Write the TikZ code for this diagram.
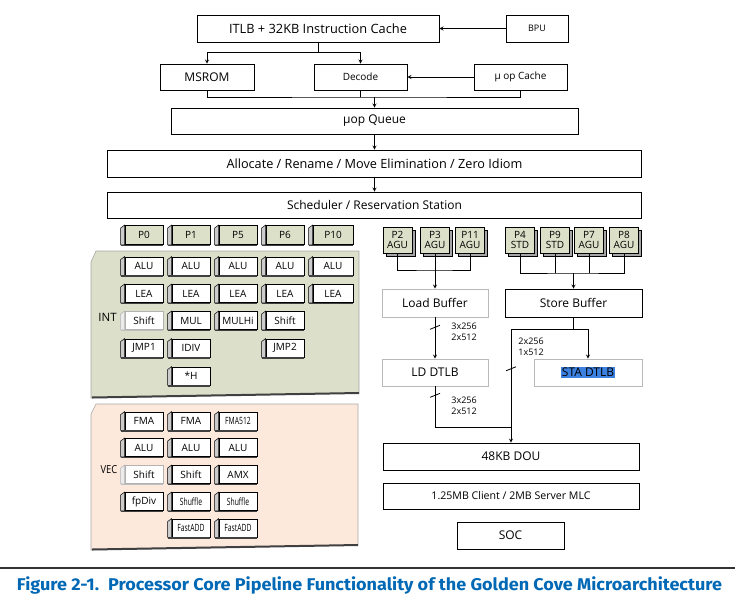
\documentclass[tikz,border=0pt]{standalone}
\usepackage{fontspec}
\setmainfont{Open Sans}
\newfontfamily\capfont{Fira Sans}
\usetikzlibrary{positioning,shadows,calc}
\definecolor{portgreen}{HTML}{DDE0C9}
\definecolor{intgreen}{HTML}{DCDFC9}
\definecolor{vecpeach}{HTML}{FDE9DC}
\definecolor{capblue}{HTML}{0068B5}
\definecolor{selblue}{HTML}{3C80E0}

\begin{document}
\begin{tikzpicture}[x=1pt,y=-1pt,>=stealth,line width=0.8pt,
	every node/.style={inner sep=0pt},
	blk/.style={draw, fill=white, font=\fontsize{12}{14}\selectfont},
	sml/.style={blk, font=\fontsize{10}{12}\selectfont},
	gbox/.style={blk, draw=gray!55},
	port/.style={draw, fill=portgreen, minimum width=38, minimum height=19, font=\fontsize{10}{11}\selectfont},
	fu/.style={draw, fill=white, minimum width=38, minimum height=18, font=\fontsize{10}{11}\selectfont},
	fulite/.style={fu, draw=gray!60},
	agu/.style={draw, fill=portgreen, align=center, minimum width=29, minimum height=26, font=\fontsize{10}{10.5}\selectfont, copy shadow={shadow xshift=3pt, shadow yshift=-3pt, fill=gray!70}},
	bus/.style={font=\fontsize{9}{11}\selectfont, align=left, anchor=west},
	bevel/.style={fill=gray!40, draw=black, line width=0.5pt},
	panel/.style={draw=gray!70, line width=0.6pt},
	]
	\useasboundingbox (0,0) rectangle (735,605);

	% front end
	\node[blk, minimum width=242, minimum height=27, font=\fontsize{12.8}{14}\selectfont] (itlb) at (318,28.5) {ITLB + 32KB Instruction Cache};
	\node[sml, minimum width=62, minimum height=27, font=\fontsize{9}{11}\selectfont] (bpu) at (537,28.5) {BPU};
	\node[blk, minimum width=94, minimum height=26] (msrom) at (207,77) {MSROM};
	\node[sml, minimum width=93, minimum height=26] (decode) at (360.5,77) {Decode};
	\node[sml, minimum width=93, minimum height=26] (ucache) at (520.5,77) {µ op Cache};
	\node[blk, minimum width=407, minimum height=26] (uqueue) at (374.5,121) {µop Queue};
	\node[blk, minimum width=534, minimum height=27, font=\fontsize{12.7}{14}\selectfont] (alloc) at (374.5,163.5) {Allocate / Rename / Move Elimination / Zero Idiom};
	\node[blk, minimum width=534, minimum height=26] (sched) at (374.5,205) {Scheduler / Reservation Station};

	\coordinate (fork) at (318,52);
	\coordinate (join) at (374.5,97);
	\draw[->] (bpu) -- (itlb);
	\draw (itlb.south) -- (fork);
	\draw[->] (fork) -| (msrom.north);
	\draw[->] (fork) -| (decode.north);
	\draw[->] (ucache) -- (decode);
	\draw (msrom.south) |- (join) -| (ucache.south);
	\draw (decode.south) -- (decode.south |- join);
	\draw[->] (join) -- (uqueue.north);
	\draw[->] (uqueue) -- (alloc);
	\draw[->] (alloc) -- (sched);

	% INT and VEC panels
	\draw[panel, fill=intgreen] (96,251) -- (359,251) -- (359,393) -- (91,398) -- (91,262) -- cycle;
	\draw[line width=2pt, black!75] (92,397.5) -- (359,393);
	\draw[panel, fill=vecpeach] (96,404) -- (358,404) -- (358,545) -- (91,550) -- (91,414) -- cycle;
	\draw[line width=2pt, black!75] (92,549.5) -- (358,545);
	\node[font=\fontsize{11.5}{12}\selectfont] (intlbl) at (107.5,317) {INT};
	\node[font=\fontsize{11}{12}\selectfont] (veclbl) at (109,470) {\scalebox{0.85}[1]{VEC}};

	% ports
	\node[port] (p0) at (144,235) {P0};
	\node[port] (p1) at (191,235) {P1};
	\node[port] (p5) at (238,235) {P5};
	\node[port] (p6) at (285,235) {P6};
	\node[port, minimum width=40] (p10) at (333,235) {P10};

	% integer units
	\node[fu] (alu1) at (144,266) {ALU};
	\node[fu] (alu2) at (191,266) {ALU};
	\node[fu] (alu3) at (238,266) {ALU};
	\node[fu] (alu4) at (285,266) {ALU};
	\node[fu, minimum width=40] (alu5) at (333,266) {ALU};
	\node[fu] (lea1) at (144,293.5) {LEA};
	\node[fu] (lea2) at (191,293.5) {LEA};
	\node[fu] (lea3) at (238,293.5) {LEA};
	\node[fu] (lea4) at (285,293.5) {LEA};
	\node[fu, minimum width=40] (lea5) at (333,293.5) {LEA};
	\node[fulite] (shift1) at (144,320.5) {Shift};
	\node[fu] (mul) at (191,320.5) {MUL};
	\node[fu] (mulhi) at (238,320.5) {MULHi};
	\node[fu] (shift2) at (285,320.5) {Shift};
	\node[fu] (jmp1) at (144,348) {JMP1};
	\node[fu] (idiv) at (191,348) {IDIV};
	\node[fu] (jmp2) at (285,348) {JMP2};
	\node[fu] (starh) at (191,376) {*H};

	% vector units
	\node[fu] (fma1) at (144,421) {FMA};
	\node[fu] (fma2) at (191,421) {FMA};
	\node[fu] (fma512) at (238,421) {\scalebox{0.68}[1]{FMA512}};
	\node[fu] (valu1) at (144,447.5) {ALU};
	\node[fu] (valu2) at (191,447.5) {ALU};
	\node[fu] (valu3) at (238,447.5) {ALU};
	\node[fulite] (vshift1) at (144,474.5) {Shift};
	\node[fu] (vshift2) at (191,474.5) {Shift};
	\node[fu] (amx) at (238,474.5) {AMX};
	\node[fu] (fpdiv) at (144,501.5) {fpDiv};
	\node[fu] (shuf1) at (191,501.5) {\scalebox{0.68}[1]{Shuffle}};
	\node[fu] (shuf2) at (238,501.5) {\scalebox{0.68}[1]{Shuffle}};
	\node[fu] (fadd1) at (191,528) {\scalebox{0.68}[1]{FastADD}};
	\node[fu] (fadd2) at (238,528) {\scalebox{0.68}[1]{FastADD}};

	\foreach \n in {p0,p1,p5,p6,p10,alu1,alu2,alu3,alu4,alu5,lea1,lea2,lea3,lea4,lea5,mul,mulhi,shift2,jmp1,idiv,jmp2,starh,fma1,fma2,fma512,valu1,valu2,valu3,vshift2,amx,fpdiv,shuf1,shuf2,fadd1,fadd2} {
		\draw[bevel] (\n.north west) -- ++(-4,3) -- ([xshift=-4pt]\n.south west) -- (\n.south west) -- cycle;
		\draw[line width=1.3pt, black!75] ([xshift=-4pt, yshift=-0.5pt]\n.south west) -- ([yshift=-0.5pt]\n.south east);
	}
	\foreach \n in {shift1,vshift1} {
		\draw[bevel, fill=gray!15, draw=gray!60] (\n.north west) -- ++(-4,3) -- ([xshift=-4pt]\n.south west) -- (\n.south west) -- cycle;
		\draw[line width=1.3pt, gray!50] ([xshift=-4pt, yshift=-0.5pt]\n.south west) -- ([yshift=-0.5pt]\n.south east);
	}

	% memory ports
	\node[agu] (p2) at (397.5,240) {P2\\AGU};
	\node[agu] (p3) at (435,240) {P3\\AGU};
	\node[agu] (p11) at (470,240) {P11\\AGU};
	\node[agu] (p4) at (520,240) {P4\\STD};
	\node[agu] (p9) at (555,240) {P9\\STD};
	\node[agu] (p7) at (589,240) {P7\\AGU};
	\node[agu] (p8) at (624,240) {P8\\AGU};

	% memory subsystem
	\node[gbox, minimum width=106, minimum height=28] (lbuf) at (435,303) {Load Buffer};
	\node[blk, minimum width=137, minimum height=28] (sbuf) at (573.5,303) {Store Buffer};
	\node[gbox, minimum width=106, minimum height=27] (ldtlb) at (435,372.5) {LD DTLB};
	\node[gbox, minimum width=108, minimum height=27] (stadtlb) at (588,372.5) {\setlength{\fboxsep}{1pt}\colorbox{selblue}{STA DTLB}};
	\node[blk, minimum width=256, minimum height=27] (dou) at (511,456.5) {48KB DOU};
	\node[blk, minimum width=256, minimum height=26, font=\fontsize{10.6}{12}\selectfont] (mlc) at (511,496) {1.25MB Client / 2MB Server MLC};
	\node[blk, minimum width=107, minimum height=27] (soc) at (510.5,535.5) {SOC};

	\coordinate (lbfork) at (435,270);
	\coordinate (sbfork) at (573.5,273);
	\draw (p2.south) |- (lbfork) -| (p11.south);
	\draw[->] (p3.south) -- (lbuf.north);
	\draw (p4.south) |- (sbfork) -| (p8.south);
	\draw (p9.south) -- (p9.south |- sbfork);
	\draw (p7.south) -- (p7.south |- sbfork);
	\draw[->] (sbfork) -- (sbuf.north);

	\coordinate (stfork) at (573.5,329);
	\coordinate (dsplit) at (511,329);
	\coordinate (ldjoin) at (511,427);
	\draw[->] (lbuf) -- coordinate[pos=0.24] (t1) (ldtlb);
	\draw (sbuf.south) -- (stfork);
	\draw[->] (dsplit) -| (stadtlb.north);
	\draw[->] (dsplit) -- coordinate[pos=0.35] (t2) (dou.north);
	\draw (ldtlb.south) -- coordinate[pos=0.22] (t3) (ldtlb.south |- ldjoin) -- (ldjoin);
	\draw (t1) +(-5,2) -- +(5,-2);
	\draw (t2) +(-5,2) -- +(5,-2);
	\draw (t3) +(-5,2) -- +(5,-2);
	\node[bus] (w1) at (451,332) {3x256\\2x512};
	\node[bus] (w2) at (518,347) {2x256\\1x512};
	\node[bus] (w3) at (451,406) {3x256\\2x512};

	% caption
	\draw[line width=1.5pt, black!80] (0,568) -- (735,568);
	\node[font=\capfont\bfseries\fontsize{17}{18}\selectfont, text=capblue] (caption) at (369.5,585) {\resizebox{705pt}{\height}{Figure 2-1.\hspace{0.5em}Processor Core Pipeline Functionality of the Golden Cove Microarchitecture}};
\end{tikzpicture}
\end{document}
